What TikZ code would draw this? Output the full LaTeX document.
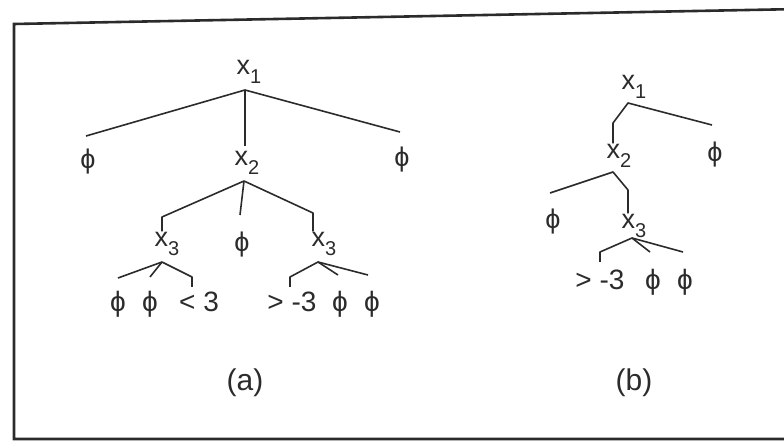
\documentclass[tikz,border=0pt]{standalone}
\usepackage{fontspec}
\setmainfont{Liberation Sans}
\usetikzlibrary{positioning}
\definecolor{inkgray}{HTML}{2B2B2B}
\newcommand{\xv}[1]{x\raisebox{-0.6ex}{\fontsize{20}{20}\selectfont #1}}
\newcommand{\nil}{ϕ}

\begin{document}
\begin{tikzpicture}[x=1pt, y=-1pt,
    every node/.style={font=\fontsize{27}{27}\selectfont, text=inkgray, inner sep=1pt},
    edge/.style={draw=inkgray, line width=1.6pt, line join=round},
    leaf/.style={font=\fontsize{28}{28}\selectfont},
    sublabel/.style={font=\fontsize{30}{30}\selectfont}
]
\useasboundingbox (0,0) rectangle (784,443);
% frame
\coordinate (ftr) at (800,9);
\coordinate (ftl) at (14,24);
\coordinate (fbl) at (14,439);
\coordinate (fbr) at (800,439);
\draw[inkgray, line width=2.6pt, line join=miter] (ftr) -- (ftl) -- (fbl) -- (fbr);

% tree (a)
\node (ax1) at (249,72) {\xv{1}};
\node (aphil) at (88,162) {\nil};
\node (aphir) at (402,160) {\nil};
\node (ax2) at (247,163) {\xv{2}};
\node (ax3l) at (167,244) {\xv{3}};
\node (aphim) at (242,245) {\nil};
\node (ax3r) at (324,244) {\xv{3}};
\node[leaf] (al1) at (118,304) {\nil};
\node[leaf] (al2) at (150,304) {\nil};
\node[leaf] (al3) at (199,302) {< 3};
\node[leaf] (ar1) at (292,302) {> -3};
\node[leaf] (ar2) at (340,304) {\nil};
\node[leaf] (ar3) at (372,304) {\nil};
\node[sublabel] (capa) at (245,383) {(a)};

\coordinate (a1) at (245,90);
\coordinate (a1l) at (86,136);
\coordinate (a1r) at (400,132);
\coordinate (a1m) at (245,146);
\coordinate (a2) at (244,181);
\coordinate (a2l) at (162,217);
\coordinate (a2m) at (240,215);
\coordinate (a2r) at (313,213);
\coordinate (a3l) at (162,262);
\coordinate (a3ll) at (118,278);
\coordinate (a3lm) at (150,277);
\coordinate (a3lr) at (192,277);
\coordinate (a3r) at (318,262);
\coordinate (a3rl) at (290,277);
\coordinate (a3rm) at (338,275);
\coordinate (a3rr) at (368,275);

\draw[edge] (a1l) -- (a1) -- (a1r);
\draw[edge] (a1) -- (a1m);
\draw[edge] (a2l |- ax3l.north) -- (a2l) -- (a2) -- (a2r) -- (a2r |- ax3r.north);
\draw[edge] (a2) -- (a2m);
\draw[edge] (a3l) -- (a3ll);
\draw[edge] (a3l) -- (a3lm);
\draw[edge] (a3l) -- (a3lr) -- ++(0,10);
\draw[edge] (a3rl) ++(0,10) -- (a3rl) -- (a3r) -- (a3rr);
\draw[edge] (a3r) -- (a3rm);

% tree (b)
\node (bx1) at (634,87) {\xv{1}};
\node (bphir) at (715,155) {\nil};
\node (bx2) at (619,156) {\xv{2}};
\node (bphil) at (553,222) {\nil};
\node (bx3) at (634,226) {\xv{3}};
\node[leaf] (bl1) at (600,280) {> -3};
\node[leaf] (bl2) at (653,282) {\nil};
\node[leaf] (bl3) at (685,282) {\nil};
\node[sublabel] (capb) at (634,383) {(b)};

\coordinate (b1) at (628,103);
\coordinate (b1l) at (613,123);
\coordinate (b1r) at (712,125);
\coordinate (b2) at (613,172);
\coordinate (b2l) at (550,193);
\coordinate (b2r) at (628,190);
\coordinate (b3) at (632,238);
\coordinate (b3l) at (600,252);
\coordinate (b3m) at (650,252);
\coordinate (b3r) at (683,252);

\draw[edge] (b1l |- bx2.north) -- (b1l) -- (b1) -- (b1r);
\draw[edge] (b2l) -- (b2) -- (b2r) -- (b2r |- bx3.north);
\draw[edge] (b3l) ++(0,10) -- (b3l) -- (b3) -- (b3r);
\draw[edge] (b3) -- (b3m);
\end{tikzpicture}
\end{document}
